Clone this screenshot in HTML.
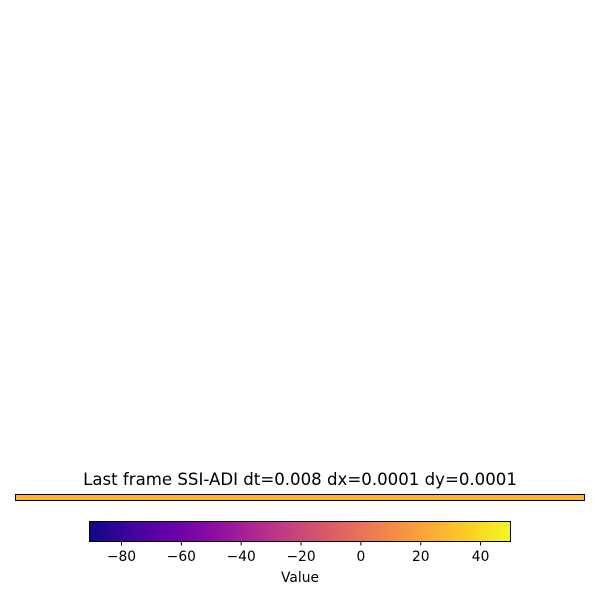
<!DOCTYPE html>
<html><head><meta charset="utf-8"><style>
html,body{margin:0;padding:0;background:#fff;}
svg{display:block;font-family:"DejaVu Sans","Liberation Sans",sans-serif;}
</style></head><body>
<svg id="chart" width="600" height="600">
<defs>
<linearGradient id="plasma" x1="0" x2="1" y1="0" y2="0">
<stop offset="0" stop-color="#0d0887"/>
<stop offset="0.1" stop-color="#41049d"/>
<stop offset="0.2" stop-color="#6a00a8"/>
<stop offset="0.3" stop-color="#8f0da4"/>
<stop offset="0.4" stop-color="#b12a90"/>
<stop offset="0.5" stop-color="#cc4778"/>
<stop offset="0.6" stop-color="#e16462"/>
<stop offset="0.7" stop-color="#f2844b"/>
<stop offset="0.8" stop-color="#fca636"/>
<stop offset="0.9" stop-color="#fcce25"/>
<stop offset="1" stop-color="#f0f921"/>
</linearGradient>
</defs>
<text x="300" y="485" text-anchor="middle" font-size="16.6" fill="#000">Last frame SSI-ADI dt=0.008 dx=0.0001 dy=0.0001</text>
<rect id="strip" x="15.5" y="494.5" width="569" height="6" fill="#fca636" stroke="#000" stroke-width="1"/>
<rect x="89.5" y="521.5" width="421" height="20" fill="url(#plasma)" stroke="#000" stroke-width="1"/>
<g id="ticks"></g>
<text x="300" y="582" text-anchor="middle" font-size="13.8" fill="#000">Value</text>
</svg>
<script>
const tickValues = [-80, -60, -40, -20, 0, 20, 40];
const tickLabels = ["\u221280", "\u221260", "\u221240", "\u221220", "0", "20", "40"];
const colorRange = [-90.7, 50];
const stripValue = [27];
function xScale(v){ return 89.5 + (v - colorRange[0]) / (colorRange[1] - colorRange[0]) * 421; }
const g = document.getElementById('ticks');
const ns = 'http://www.w3.org/2000/svg';
tickValues.forEach((v, i) => {
  const x = xScale(v);
  const l = document.createElementNS(ns, 'line');
  l.setAttribute('x1', x); l.setAttribute('x2', x);
  l.setAttribute('y1', 541.5); l.setAttribute('y2', 545.5);
  l.setAttribute('stroke', '#000');
  
  
  g.appendChild(l);
  const t = document.createElementNS(ns, 'text');
  t.setAttribute('x', x); t.setAttribute('y', 561);
  t.setAttribute('text-anchor', 'middle'); t.setAttribute('font-size', '13.8');
  t.textContent = tickLabels[i];
  
  
  g.appendChild(t);
});
const stops = ["#0d0887","#41049d","#6a00a8","#8f0da4","#b12a90","#cc4778","#e16462","#f2844b","#fca636","#fcce25","#f0f921"];
function cmap(v){
  let f = (v - colorRange[0]) / (colorRange[1] - colorRange[0]);
  f = Math.max(0, Math.min(1, f)) * 10;
  const i = Math.min(9, Math.floor(f)), r = f - i;
  const a = stops[i], b = stops[i+1];
  const c = k => Math.round(parseInt(a.substr(k,2),16)*(1-r) + parseInt(b.substr(k,2),16)*r);
  return 'rgb(' + c(1) + ',' + c(3) + ',' + c(5) + ')';
}
document.getElementById('strip').setAttribute('fill', cmap(stripValue[0]));
</script>
</body></html>
